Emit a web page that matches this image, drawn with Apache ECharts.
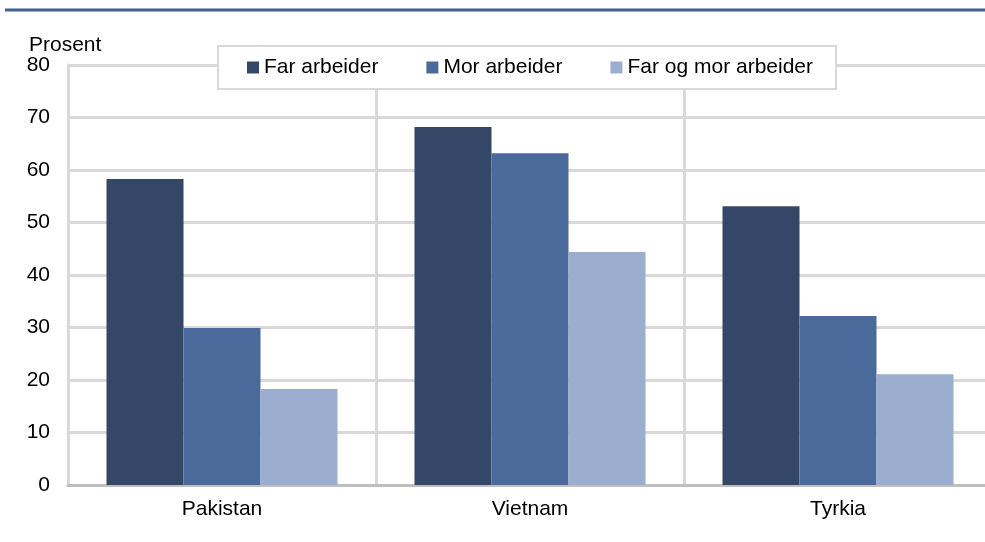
<!DOCTYPE html>
<html>
<head>
<meta charset="utf-8">
<script src="https://cdn.jsdelivr.net/npm/echarts@6/dist/echarts.min.js"></script>
<style>
  html, body { margin: 0; padding: 0; background: #fff; overflow: hidden; }
  #chart { width: 992px; height: 542px; }
</style>
</head>
<body>
<div id="chart"></div>
<script>
// land og andel som arbeider (prosent)
var categories = ['Pakistan', 'Vietnam', 'Tyrkia'];
var seriesNames = ['Far arbeider', 'Mor arbeider', 'Far og mor arbeider'];
var farArbeider = [58.3, 68.2, 53.1];
var morArbeider = [29.9, 63.2, 32.2];
var beggeArbeider = [18.3, 44.4, 21.1];
var colors = ['#344767', '#4a6a9b', '#9baecf'];

// plottet går litt ut over høyre kant, derfor er diven 992px bred
var myChart = echarts.init(document.getElementById('chart'));
var fontFam = 'Liberation Sans, Arial, sans-serif';

var option = {
    animation: false,
    color: colors,
    textStyle: { fontFamily: fontFam },
    grid: { left: 68, right: 0, top: 65, bottom: 57 },
    graphic: [
        { type: 'line', shape: { x1: 5, y1: 10, x2: 985, y2: 10 },
          style: { stroke: '#41608f', lineWidth: 3 } },
        { type: 'text', left: 29, top: 35,
          style: { text: 'Prosent', font: '21px ' + fontFam, fill: '#000' } }
    ],
    legend: {
        data: seriesNames,
        left: 218, top: 46,
        padding: [11, 23, 11, 29],
        itemWidth: 12, itemHeight: 12,
        itemGap: 48,
        backgroundColor: '#fff',
        borderColor: '#d9d9d9', borderWidth: 2,
        textStyle: { fontSize: 21, color: '#000', fontFamily: fontFam },
        icon: 'rect'
    },
    xAxis: {
        type: 'category',
        data: categories,
        axisTick: { show: false },
        axisLine: { lineStyle: { color: '#bfbfbf', width: 3 } },
        splitLine: { show: true, interval: 0, lineStyle: { color: '#d9d9d9', width: 3 } },
        axisLabel: { fontSize: 21, color: '#000', margin: 14, fontFamily: fontFam }
    },
    yAxis: {
        type: 'value',
        min: 0, max: 80, interval: 10,
        axisLine: { show: true, lineStyle: { color: '#d9d9d9', width: 3 } },
        axisTick: { show: false },
        splitLine: { lineStyle: { color: '#d9d9d9', width: 3 } },
        axisLabel: { fontSize: 21, color: '#000', margin: 18, fontFamily: fontFam }
    },
    series: [
        { name: seriesNames[0], type: 'bar', data: farArbeider, barGap: 0, barCategoryGap: '25%' },
        { name: seriesNames[1], type: 'bar', data: morArbeider, barGap: 0, barCategoryGap: '25%' },
        { name: seriesNames[2], type: 'bar', data: beggeArbeider, barGap: 0, barCategoryGap: '25%' }
    ]
};

myChart.setOption(option, true);
</script>
</body>
</html>
